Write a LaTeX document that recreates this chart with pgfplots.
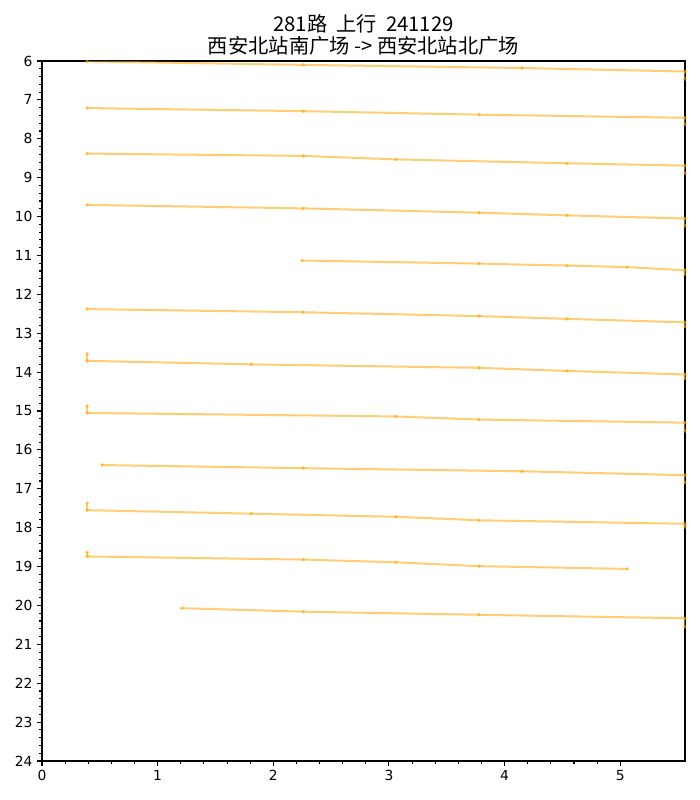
\documentclass[border=0pt]{standalone}
\usepackage{fontspec}
\setmainfont{DejaVu Sans}
\newfontfamily\cjk{Noto Sans CJK SC}
\usepackage{pgfplots}
\pgfplotsset{compat=1.18}

\definecolor{trip}{RGB}{255,165,0}

\begin{document}
\begin{tikzpicture}
\begin{axis}[
  scale only axis,
  width=482.25pt, height=525pt,
  xmin=0, xmax=5.56,
  ymin=6, ymax=24,
  y dir=reverse,
  xtick={0,1,2,3,4,5},
  ytick={6,7,...,24},
  minor tick num=4,
  tick pos=left,
  tick align=outside,
  major tick length=3.6pt,
  minor tick length=2.1pt,
  every tick/.style={black, line width=0.8pt},
  axis line style={line width=0.8pt},
  /pgf/number format/assume math mode=true,
  tick label style={font=\fontsize{10.4}{12}\selectfont},
  title={281路\ \ 上行\ \ 241129\\西安北站南广场 -> 西安北站北广场},
  title style={align=center, font=\cjk\fontsize{15.2}{16.5}\selectfont, yshift=-5pt},
  every axis plot post/.style={trip, solid, opacity=0.55, line width=1.5pt,
    mark=*, mark size=0.45pt, mark options={solid, draw=trip, fill=trip}},
]
\addplot coordinates {(0.39,6.01) (2.26,6.10) (4.15,6.18) (5.56,6.27) (5.56,6.46)};
\addplot coordinates {(0.39,7.21) (2.26,7.29) (3.78,7.38) (5.56,7.46) (5.56,7.63)};
\addplot coordinates {(0.39,8.38) (2.26,8.44) (3.06,8.53) (4.54,8.63) (5.56,8.69) (5.56,8.89)};
\addplot coordinates {(0.39,9.70) (2.26,9.79) (3.78,9.90) (4.54,9.97) (5.56,10.05) (5.56,10.24)};
\addplot coordinates {(2.25,11.13) (3.78,11.21) (4.54,11.26) (5.06,11.30) (5.56,11.38) (5.56,11.48)};
\addplot coordinates {(0.39,12.38) (2.26,12.46) (3.78,12.56) (4.54,12.63) (5.56,12.72) (5.56,12.83)};
\addplot coordinates {(0.39,13.53) (0.39,13.71) (1.81,13.80) (3.78,13.89) (4.54,13.97) (5.56,14.06) (5.56,14.16)};
\addplot coordinates {(0.39,14.87) (0.39,15.05) (3.06,15.14) (3.78,15.22) (5.56,15.30) (5.56,15.51)};
\addplot coordinates {(0.52,16.39) (2.26,16.47) (4.15,16.55) (5.56,16.65) (5.56,16.84)};
\addplot coordinates {(0.39,17.37) (0.39,17.55) (1.81,17.64) (3.06,17.72) (3.78,17.81) (5.56,17.90) (5.56,17.98)};
\addplot coordinates {(0.39,18.63) (0.39,18.74) (2.26,18.82) (3.06,18.89) (3.78,18.99) (5.06,19.06)};
\addplot coordinates {(1.21,20.07) (2.26,20.16) (3.78,20.24) (5.56,20.33) (5.56,20.55)};
\end{axis}
\path (current axis.south west) ++(-31.5pt,-29.25pt)
      (current axis.north east) ++(11.25pt,45.75pt);
\end{tikzpicture}
\end{document}
